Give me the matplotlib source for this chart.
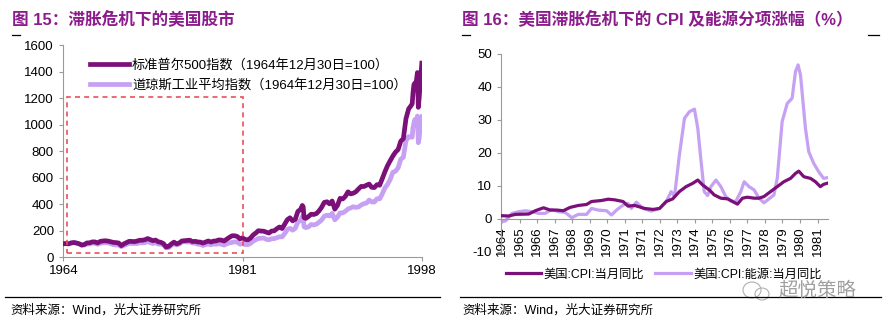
import matplotlib
matplotlib.use('Agg')
import matplotlib.pyplot as plt
import matplotlib.dates as mdates
from matplotlib.patches import Rectangle, Ellipse
from matplotlib.lines import Line2D
import pandas as pd

plt.rcParams['font.family'] = ['Liberation Sans', 'Noto Sans CJK SC']
plt.rcParams['axes.unicode_minus'] = False

# ---------------- data: left panel (index closes) ----------------
stock_months = [
    "1964-12",
    "1965-03", "1965-06", "1965-09", "1965-12",
    "1966-03", "1966-06", "1966-09", "1966-12",
    "1967-03", "1967-06", "1967-09", "1967-12",
    "1968-03", "1968-06", "1968-09", "1968-12",
    "1969-03", "1969-06", "1969-09", "1969-12",
    "1970-03", "1970-06", "1970-09", "1970-12",
    "1971-03", "1971-06", "1971-09", "1971-12",
    "1972-03", "1972-06", "1972-09", "1972-12",
    "1973-03", "1973-06", "1973-09", "1973-12",
    "1974-03", "1974-06", "1974-09", "1974-12",
    "1975-03", "1975-06", "1975-09", "1975-12",
    "1976-03", "1976-06", "1976-09", "1976-12",
    "1977-03", "1977-06", "1977-09", "1977-12",
    "1978-03", "1978-06", "1978-09", "1978-12",
    "1979-03", "1979-06", "1979-09", "1979-12",
    "1980-03", "1980-06", "1980-09", "1980-12",
    "1981-03", "1981-06", "1981-09", "1981-12",
    "1982-03", "1982-06", "1982-09", "1982-12",
    "1983-03", "1983-06", "1983-09", "1983-12",
    "1984-03", "1984-06", "1984-09", "1984-12",
    "1985-03", "1985-06", "1985-09", "1985-12",
    "1986-03", "1986-06", "1986-09", "1986-12",
    "1987-03", "1987-06", "1987-08", "1987-09", "1987-10", "1987-12",
    "1988-03", "1988-06", "1988-09", "1988-12",
    "1989-03", "1989-06", "1989-09", "1989-12",
    "1990-03", "1990-06", "1990-09", "1990-12",
    "1991-03", "1991-06", "1991-09", "1991-12",
    "1992-03", "1992-06", "1992-09", "1992-12",
    "1993-03", "1993-06", "1993-09", "1993-12",
    "1994-03", "1994-06", "1994-09", "1994-12",
    "1995-03", "1995-06", "1995-09", "1995-12",
    "1996-03", "1996-06", "1996-09", "1996-12",
    "1997-03", "1997-06", "1997-09", "1997-12",
    "1998-01", "1998-02", "1998-03", "1998-04", "1998-05", "1998-06",
    "1998-07", "1998-08", "1998-09", "1998-10", "1998-11", "1998-12",
]

sp500_close = [
    84.75,
    86.16, 84.12, 89.96, 92.43,
    89.23, 84.74, 76.56, 80.33,
    90.20, 90.64, 96.71, 96.47,
    90.20, 99.58, 102.67, 103.86,
    101.51, 97.71, 93.12, 92.06,
    89.63, 72.72, 84.21, 92.15,
    100.31, 99.70, 98.34, 102.09,
    107.20, 107.14, 110.55, 118.05,
    111.52, 104.26, 108.43, 97.55,
    93.98, 86.00, 63.54, 68.56,
    83.36, 95.19, 83.87, 90.19,
    102.77, 104.28, 105.24, 107.46,
    98.42, 100.48, 96.53, 95.10,
    89.21, 95.53, 102.54, 96.11,
    101.59, 102.91, 109.32, 107.94,
    102.09, 114.24, 125.46, 135.76,
    136.00, 131.21, 116.18, 122.55,
    111.96, 109.61, 120.42, 140.64,
    152.96, 168.11, 166.07, 164.93,
    159.18, 153.18, 166.10, 167.24,
    180.66, 191.85, 182.08, 211.28,
    238.90, 250.84, 231.32, 242.17,
    291.70, 304.00, 329.80, 321.83, 251.79, 247.08,
    258.89, 273.50, 271.91, 277.72,
    294.87, 317.98, 349.15, 353.40,
    339.94, 358.02, 306.05, 330.22,
    375.22, 371.16, 387.86, 417.09,
    403.69, 408.14, 417.80, 435.71,
    451.67, 450.53, 458.93, 466.45,
    445.77, 444.27, 462.69, 459.27,
    500.71, 544.75, 584.41, 615.93,
    645.50, 670.63, 687.31, 740.74,
    757.12, 885.14, 947.28, 970.43,
    980.28, 1049.34, 1101.75, 1111.75, 1090.82, 1133.84,
    1180.00, 957.28, 1017.01, 1098.67, 1163.63, 1240.00,
]

dow_close = [
    874.13,
    889.05, 868.03, 930.58, 969.26,
    924.77, 870.10, 774.22, 785.69,
    865.98, 860.26, 926.66, 905.11,
    840.67, 897.80, 935.79, 943.75,
    935.48, 873.19, 813.09, 800.36,
    785.57, 683.53, 760.68, 838.92,
    904.37, 891.14, 887.19, 890.20,
    940.70, 929.03, 953.27, 1020.02,
    951.01, 891.71, 947.10, 850.86,
    846.68, 802.41, 607.87, 616.24,
    768.15, 878.99, 793.88, 852.41,
    999.45, 1002.78, 990.19, 1004.65,
    919.13, 916.30, 847.11, 831.17,
    757.36, 818.95, 865.82, 805.01,
    862.18, 841.98, 878.58, 838.74,
    785.75, 867.92, 932.42, 963.99,
    1003.87, 976.88, 849.98, 875.00,
    822.77, 811.93, 896.25, 1046.54,
    1130.03, 1221.96, 1233.13, 1258.64,
    1164.89, 1132.40, 1206.71, 1211.57,
    1266.78, 1335.46, 1328.63, 1546.67,
    1818.61, 1892.72, 1767.58, 1895.95,
    2304.69, 2418.53, 2662.95, 2596.28, 1993.53, 1938.83,
    1988.06, 2141.71, 2112.91, 2168.57,
    2293.62, 2440.06, 2692.82, 2753.20,
    2707.21, 2880.69, 2452.48, 2633.66,
    2913.86, 2906.75, 3016.77, 3168.83,
    3235.47, 3318.52, 3271.66, 3301.11,
    3435.11, 3516.08, 3555.12, 3754.09,
    3635.96, 3624.96, 3843.19, 3834.44,
    4157.69, 4556.10, 4789.08, 5117.12,
    5587.14, 5654.63, 5882.17, 6448.27,
    6583.48, 7672.79, 7945.26, 7908.25,
    7906.50, 8545.72, 8799.81, 9063.37, 8899.95, 8952.02,
    9300.00, 7539.07, 7842.62, 8592.10, 9116.55, 9250.00,
]

sp500_base = 84.75      # 1964-12-30
dow_base = 874.13       # 1964-12-30
stock_names = ["标准普尔500指数（1964年12月30日=100）",
               "道琼斯工业平均指数（1964年12月30日=100）"]
stock_tick_dates = ["1964-12-30", "1981-12-30", "1998-12-30"]
stock_yticks = [0, 200, 400, 600, 800, 1000, 1200, 1400, 1600]

# ---------------- data: right panel (CPI yoy, %) ----------------
cpi_labels = ["1964", "1965", "1966", "1967", "1968", "1969", "1970", "1971",
              "1971", "1972", "1973", "1974", "1975", "1976", "1977", "1978",
              "1979", "1980", "1981"]

cpi_pos = [-0.05, 0.36, 0.74, 1.50, 1.88, 2.35, 2.73, 3.11, 3.48, 3.86,
           4.34, 4.81, 5.09, 5.66, 6.04, 6.42, 6.89, 7.18, 7.56, 8.12,
           8.60, 8.98, 9.36, 9.73, 10.11, 10.49, 10.87, 11.16, 11.44, 11.82,
           12.10, 12.48, 12.86, 13.14, 13.43, 13.71, 13.99, 14.38, 14.66, 14.94,
           15.32, 15.70, 16.08, 16.46, 16.74, 16.93, 17.22, 17.60, 17.88, 18.16,
           18.35, 18.54]
cpi_yoy = [1.0, 0.9, 1.4, 1.5, 2.5, 3.4, 2.7, 2.7, 2.5, 3.5,
           4.1, 4.4, 5.3, 5.6, 6.0, 5.8, 5.3, 3.9, 4.1, 3.2,
           2.9, 3.2, 5.3, 6.1, 8.3, 9.8, 10.8, 11.8, 10.3, 8.8,
           7.3, 6.3, 6.1, 5.3, 4.5, 6.3, 6.6, 6.3, 6.3, 6.8,
           8.3, 9.8, 11.3, 12.3, 13.8, 14.5, 12.8, 12.3, 11.3, 9.8,
           10.5, 10.8]

energy_pos = [-0.05, 0.17, 0.55, 0.93, 1.31, 1.69, 2.06, 2.44, 2.82, 3.20,
              3.58, 3.96, 4.34, 4.81, 5.09, 5.47, 5.95, 6.23, 6.52, 6.89,
              7.18, 7.37, 7.65, 8.03, 8.50, 8.98, 9.36, 9.64, 9.83, 10.11,
              10.40, 10.68, 10.97, 11.16, 11.35, 11.53, 11.72, 11.91, 12.20, 12.48,
              12.76, 13.05, 13.33, 13.62, 13.81, 14.09, 14.38, 14.66, 14.94, 15.23,
              15.51, 15.70, 15.98, 16.27, 16.55, 16.74, 16.89, 17.03, 17.31, 17.50,
              17.78, 18.07, 18.35, 18.54]
energy_yoy = [-0.8, -0.6, 1.7, 2.2, 2.5, 2.2, 1.7, 1.7, 2.9, 2.2,
              2.0, 0.4, 1.4, 1.4, 3.2, 2.7, 2.5, 1.2, 2.7, 4.2,
              4.7, 3.2, 5.1, 3.2, 2.4, 3.2, 5.3, 8.3, 6.8, 19.4,
              30.5, 32.5, 33.3, 27.5, 17.4, 8.3, 7.1, 9.8, 11.8, 9.8,
              6.8, 5.5, 5.3, 8.3, 11.3, 9.8, 8.8, 6.3, 4.9, 6.1,
              7.3, 12.3, 29.5, 35.0, 36.6, 44.6, 46.7, 43.6, 27.5, 20.4,
              16.9, 14.3, 12.3, 12.5]
cpi_names = ["美国:CPI:当月同比", "美国:CPI:能源:当月同比"]

# ---------------- styles ----------------
DARK = '#7A1078'
LIGHT = '#C6A0F2'
TITLE = '#8B1C8C'
SPINE = '#9A9A9A'

fig = plt.figure(figsize=(8.91, 3.30), dpi=100)

# ---------------- left panel ----------------
ax1 = fig.add_axes([0.0707, 0.2212, 0.4029, 0.6424])
dates = pd.to_datetime(stock_months) + pd.offsets.MonthEnd(0)
sp_norm = [v / sp500_base * 100 for v in sp500_close]
dow_norm = [v / dow_base * 100 for v in dow_close]
ax1.plot(dates, sp_norm, color=DARK, lw=3.4, label=stock_names[0], zorder=3,
         solid_joinstyle='round')
ax1.plot(dates, dow_norm, color=LIGHT, lw=3.4, label=stock_names[1], zorder=2,
         solid_joinstyle='round')

xt = pd.to_datetime(stock_tick_dates)
ax1.set_xlim(pd.Timestamp("1964-12-20"), pd.Timestamp("1999-01-05"))
ax1.set_ylim(0, 1600)
ax1.set_xticks(xt)
ax1.xaxis.set_major_formatter(mdates.DateFormatter('%Y'))
ax1.set_yticks(stock_yticks)
for s in ['top', 'right']:
    ax1.spines[s].set_visible(False)
for s in ['left', 'bottom']:
    ax1.spines[s].set_color(SPINE)
    ax1.spines[s].set_linewidth(0.8)
ax1.tick_params(axis='both', colors=SPINE, labelcolor='black', labelsize=9.5,
                length=3, width=0.8)
ax1.tick_params(axis='x', pad=3)

r0 = mdates.date2num(pd.Timestamp("1965-05-01"))
r1 = mdates.date2num(pd.Timestamp("1981-12-30"))
ax1.add_patch(Rectangle((r0, 30), r1 - r0, 1175, fill=False, ec='#E8505A',
                        lw=1.2, ls=(0, (3, 2.5)), zorder=4))

ax1.legend(loc='upper left', bbox_to_anchor=(0.06, 0.96), frameon=False,
           fontsize=9.5, handlelength=3.0, handletextpad=0.2,
           labelspacing=0.55, borderaxespad=0)

# ---------------- right panel ----------------
ax2 = fig.add_axes([0.5623, 0.2364, 0.3670, 0.6000])
ax2.plot(cpi_pos, cpi_yoy, color=DARK, lw=2.3, label=cpi_names[0], zorder=3)
ax2.plot(energy_pos, energy_yoy, color=LIGHT, lw=2.3, label=cpi_names[1], zorder=2)
ax2.spines['bottom'].set_position(('data', 0))
ax2.set_xlim(-0.08, 18.6)
ax2.set_ylim(-10, 50)
ax2.set_yticks(range(-10, 51, 10))
ax2.set_xticks(range(len(cpi_labels)))
ax2.set_xticklabels(cpi_labels)
for s in ['top', 'right']:
    ax2.spines[s].set_visible(False)
for s in ['left', 'bottom']:
    ax2.spines[s].set_color(SPINE)
    ax2.spines[s].set_linewidth(0.8)
ax2.tick_params(axis='both', colors=SPINE, labelcolor='black', labelsize=9.5,
                length=3, width=0.8)
ax2.tick_params(axis='x', pad=2, labelrotation=90)

ax2.legend(loc='upper left', bbox_to_anchor=(0.0, -0.06), ncol=2, frameon=False,
           fontsize=8.8, handlelength=2.9, handletextpad=0.2, columnspacing=0.9,
           borderaxespad=0)

# ---------------- titles, rules, footers ----------------
fig.text(0.0135, 0.945, "图 15：滞胀危机下的美国股市", color=TITLE, fontsize=12,
         fontweight='bold', va='center', ha='left')
fig.text(0.5185, 0.945, "图 16：美国滞胀危机下的 CPI 及能源分项涨幅（%）", color=TITLE,
         fontsize=12, fontweight='bold', va='center', ha='left')

y_top = 1 - 35 / 330
for x0, x1 in [(12, 20), (462, 470), (868, 879)]:
    fig.add_artist(Line2D([x0 / 891, x1 / 891], [y_top, y_top], color='black', lw=0.9))

y_rule = 1 - 297 / 330
fig.add_artist(Line2D([5 / 891, 440 / 891], [y_rule, y_rule], color='black', lw=0.9))
fig.add_artist(Line2D([460 / 891, 881 / 891], [y_rule, y_rule], color='black', lw=0.9))

fig.text(10 / 891, 1 - 310 / 330, "资料来源：Wind，光大证券研究所", fontsize=9,
         va='center', ha='left')
fig.text(462 / 891, 1 - 310 / 330, "资料来源：Wind，光大证券研究所", fontsize=9,
         va='center', ha='left')

# watermark
fig.add_artist(Ellipse((752 / 891, 1 - 290 / 330), 18 / 891, 16 / 330, fill=False,
                       ec='#B0B0B0', lw=0.8))
fig.add_artist(Ellipse((762 / 891, 1 - 294 / 330), 14 / 891, 12 / 330, fill=False,
                       ec='#B0B0B0', lw=0.8))
fig.text(817 / 891, 1 - 291 / 330, "超悦策略", fontsize=14, color='#A0A0A0',
         va='center', ha='center')

fig.savefig('out.png', dpi=100)
